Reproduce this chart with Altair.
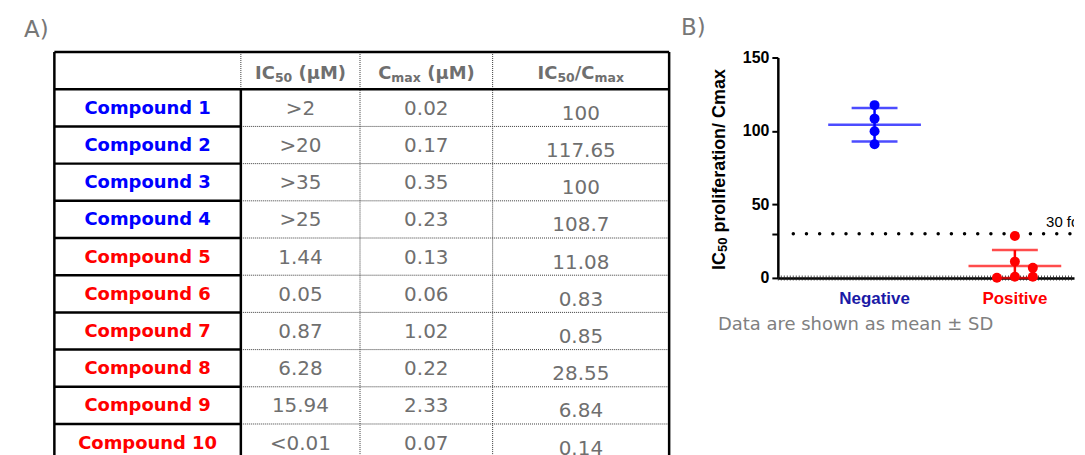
import altair as alt
import pandas as pd

# ---------------- data ----------------
compound_names = ["Compound 1", "Compound 2", "Compound 3", "Compound 4", "Compound 5",
                  "Compound 6", "Compound 7", "Compound 8", "Compound 9", "Compound 10"]
compound_class = ["Negative", "Negative", "Negative", "Negative", "Positive",
                  "Positive", "Positive", "Positive", "Positive", "Positive"]
ic50_values = [">2", ">20", ">35", ">25", "1.44", "0.05", "0.87", "6.28", "15.94", "<0.01"]
cmax_values = ["0.02", "0.17", "0.35", "0.23", "0.13", "0.06", "1.02", "0.22", "2.33", "0.07"]
ratio_values = ["100", "117.65", "100", "108.7", "11.08", "0.83", "0.85", "28.55", "6.84", "0.14"]
# header cells as (text, is_subscript) pieces
header_pieces = [
    [],
    [("IC", 0), ("50", 1), (" (µM)", 0)],
    [("C", 0), ("max", 1), (" (µM)", 0)],
    [("IC", 0), ("50", 1), ("/C", 0), ("max", 1)],
]

categories = ["Negative", "Positive"]
negative_ratios = [117.6, 108.4, 99.8, 91.0]
positive_ratios = [28.55, 11.08, 6.84, 0.85, 0.83, 0.14]
negative_swarm_slot = [0, 0, 0, 0]
positive_swarm_slot = [0, 0, 1, 1, 0, -1]
threshold_value = 30
threshold_text = "30 fold"
y_tick_values = [0, 30, 50, 100, 150]
y_title_pieces = [("IC", 0), ("50", 1), (" proliferation/ Cmax", 0)]
footnote_text = "Data are shown as mean ± SD"
panel_labels = ["A)", "B)"]

# ---------------- layout / style ----------------
PAGE_M = 8
col_edges = [e - PAGE_M for e in (54.5, 241.5, 361.0, 494.0, 671.0)]
col_centers = [(col_edges[i] + col_edges[i + 1]) / 2 for i in range(4)]
TABLE_TOP = 51.5 - PAGE_M
ROW_H = 37.3
N_ROWS = 11
TABLE_W, TABLE_H = 700, 470
GAP = 72
PLOT_W, PLOT_H = 297, 270
Y0_PX, YMAX_PX = 270, 49
PX_PER_CAT = 140.7
NEG_X_PX = 97
SLOT_PX = 18
BOTTOM_EXT = N_ROWS + 0.8

BLUE_TXT = "#0000ff"
RED = "#ff0000"
BLUE_PT = "#0000e6"
NAVY_LBL = "#1a1aa6"
GRAY = "#6f6f6f"
VERDANA = "DejaVu Sans"
ARIAL = "Liberation Sans"

# approximate advance widths (em) used to place subscript pieces next to each other
W_DEJAVU_BOLD = {"I": .372, "C": .734, "5": .696, "0": .696, " ": .348, "(": .457, ")": .457,
                 "µ": .721, "M": .995, "/": .365, "m": 1.042, "a": .675, "x": .663}
W_ARIAL_BOLD = {"I": .278, "C": .722, "5": .556, "0": .556, " ": .278, "p": .611, "r": .389,
                "o": .611, "l": .278, "i": .278, "f": .333, "e": .556, "a": .556, "t": .333,
                "n": .611, "/": .278, "m": .889, "x": .556}


def piece_layout(pieces, table, fs, fs_sub):
    """Return [(text_without_leading_space, is_sub, offset)] and the total width."""
    out, pos = [], 0.0
    for txt, sub in pieces:
        size = fs_sub if sub else fs
        stripped = txt.lstrip(" ")
        pos += (len(txt) - len(stripped)) * table[" "] * size
        out.append((stripped, sub, pos))
        pos += sum(table.get(ch, 0.6) for ch in stripped) * size
    return out, pos


# ---------------- table panel ----------------
row_scale = alt.Scale(domain=[0, N_ROWS], range=[TABLE_TOP, TABLE_TOP + N_ROWS * ROW_H],
                      nice=False, zero=False)


def YT(field):
    return alt.Y(field, type="quantitative", scale=row_scale, axis=None)


def XT(field):
    return alt.X(field, type="quantitative", scale=None, axis=None)


x0, x1, x2, x3, x4 = col_edges
thick = [(x0, x4, 0, 0), (x0, x4, 1, 1), (x0, x0, 0, BOTTOM_EXT), (x4, x4, 0, BOTTOM_EXT),
         (x1, x1, 1, BOTTOM_EXT)] + [(x0, x1, r, r) for r in range(2, N_ROWS + 1)]
dotted = [(x1, x1, 0, 1), (x2, x2, 0, BOTTOM_EXT), (x3, x3, 0, BOTTOM_EXT)] + \
         [(x1, x4, r, r) for r in range(2, N_ROWS + 1)]
thick_df = pd.DataFrame(thick, columns=["xa", "xb", "ya", "yb"])
dotted_df = pd.DataFrame(dotted, columns=["xa", "xb", "ya", "yb"])

dotted_layer = alt.Chart(dotted_df).mark_rule(
    color="#3a3a3a", strokeWidth=1, strokeDash=[1, 1], clip=True
).encode(x=XT("xa"), x2="xb", y=YT("ya"), y2="yb")
thick_layer = alt.Chart(thick_df).mark_rule(
    color="black", strokeWidth=2.5, clip=True
).encode(x=XT("xa"), x2="xb", y=YT("ya"), y2="yb")

rows_df = pd.DataFrame({
    "row": list(range(1, len(compound_names) + 1)),
    "name": compound_names,
    "cls": compound_class,
    "ic50": ic50_values,
    "cmax": cmax_values,
    "ratio": ratio_values,
})
rows_df["yc"] = rows_df["row"] + 0.5

names_layer = alt.Chart(rows_df).mark_text(
    font=VERDANA, fontWeight="bold", fontSize=18, baseline="middle", align="center", dy=1, clip=True
).encode(
    x=alt.value(col_centers[0]), y=YT("yc"), text="name:N",
    color=alt.Color("cls:N", scale=alt.Scale(domain=categories, range=[BLUE_TXT, RED]), legend=None),
)

val_long = pd.concat([
    pd.DataFrame({"xc": col_centers[1], "yc": rows_df["yc"], "txt": rows_df["ic50"]}),
    pd.DataFrame({"xc": col_centers[2], "yc": rows_df["yc"], "txt": rows_df["cmax"]}),
])
vals_layer = alt.Chart(val_long).mark_text(
    font=VERDANA, fontSize=20, color=GRAY, baseline="middle", align="center", dy=1, clip=True
).encode(x=XT("xc"), y=YT("yc"), text="txt:N")

ratio_df = pd.DataFrame({"xc": col_centers[3], "yc": rows_df["yc"], "txt": rows_df["ratio"]})
ratio_layer = alt.Chart(ratio_df).mark_text(
    font=VERDANA, fontSize=20, color=GRAY, baseline="middle", align="center", dy=6, clip=True
).encode(x=XT("xc"), y=YT("yc"), text="txt:N")

H_FS, H_FS_SUB = 18, 12.5
hdr_rows = []
for ci, pieces in enumerate(header_pieces):
    if not pieces:
        continue
    laid, total = piece_layout(pieces, W_DEJAVU_BOLD, H_FS, H_FS_SUB)
    start = col_centers[ci] - total / 2
    for txt, sub, off in laid:
        hdr_rows.append({"xc": start + off, "yc": 0.5, "txt": txt, "sub": sub})
hdr_df = pd.DataFrame(hdr_rows)
header_main = alt.Chart(hdr_df[hdr_df["sub"] == 0]).mark_text(
    font=VERDANA, fontWeight="bold", fontSize=H_FS, color=GRAY, baseline="alphabetic", align="left", dy=8
).encode(x=XT("xc"), y=YT("yc"), text="txt:N")
header_sub = alt.Chart(hdr_df[hdr_df["sub"] == 1]).mark_text(
    font=VERDANA, fontWeight="bold", fontSize=H_FS_SUB, color=GRAY, baseline="alphabetic", align="left", dy=11
).encode(x=XT("xc"), y=YT("yc"), text="txt:N")

labelA_layer = alt.Chart(pd.DataFrame({"t": [panel_labels[0]]})).mark_text(
    font=VERDANA, fontSize=23, color="#777777", align="left", baseline="middle"
).encode(x=alt.value(16), y=alt.value(21), text="t:N")

table_chart = alt.layer(
    dotted_layer, thick_layer, header_main, header_sub, names_layer, vals_layer, ratio_layer, labelA_layer
).properties(width=TABLE_W, height=TABLE_H)

# ---------------- scatter panel ----------------
pts = pd.DataFrame({
    "cat": ["Negative"] * len(negative_ratios) + ["Positive"] * len(positive_ratios),
    "value": negative_ratios + positive_ratios,
    "slot": negative_swarm_slot + positive_swarm_slot,
})
pts["idx"] = pts["cat"].map({c: i for i, c in enumerate(categories)})
pts["xpos"] = pts["idx"] + pts["slot"] * SLOT_PX / PX_PER_CAT

stats = pts.groupby("cat").agg(idx=("idx", "first"), mean=("value", "mean"), sd=("value", "std")).reset_index()
stats["upper"] = stats["mean"] + stats["sd"]
stats["lower"] = (stats["mean"] - stats["sd"]).clip(lower=0)

xs = alt.Scale(domain=[-NEG_X_PX / PX_PER_CAT, (PLOT_W - NEG_X_PX) / PX_PER_CAT], nice=False, zero=False)
ys = alt.Scale(domain=[0, 150], range=[Y0_PX, YMAX_PX], nice=False, zero=False)
x_axis = alt.Axis(labels=False, ticks=False, title=None, domain=True, domainWidth=2.5,
                  domainColor="black", grid=False)
y_axis = alt.Axis(values=y_tick_values, labelExpr="datum.value == 30 ? '' : datum.label",
                  labelFont=ARIAL, labelFontWeight="bold", labelFontSize=16, labelColor="black",
                  tickColor="black", tickWidth=2, tickSize=6, domainWidth=2.5, domainColor="black",
                  grid=False, title=None, labelPadding=3)


def XS(field):
    return alt.X(field, type="quantitative", scale=xs, axis=x_axis)


def YS(field):
    return alt.Y(field, type="quantitative", scale=ys, axis=y_axis)


cat_color = alt.Color("cat:N", scale=alt.Scale(domain=categories, range=[BLUE_PT, RED]), legend=None)

thr_df = pd.DataFrame({"v": [threshold_value], "t": [threshold_text]})
thr_rule = alt.Chart(thr_df).mark_rule(
    color="black", strokeWidth=3.5, strokeDash=[0.01, 13.2], strokeCap="round", clip=True
).encode(x=alt.value(15.5), x2=alt.value(PLOT_W), y=YS("v"))
thr_text = alt.Chart(thr_df).mark_text(
    font=ARIAL, fontSize=15, color="black", align="left", baseline="alphabetic", dy=-7, clip=True
).encode(x=alt.value(269), y=YS("v"), text="t:N")

zero_df = pd.DataFrame({"v": [0]})
hatch = alt.Chart(zero_df).mark_rule(
    color="#222222", strokeWidth=5, strokeDash=[0.8, 2.2]
).encode(x=alt.value(0), x2=alt.value(PLOT_W), y=YS("v"))

sd_rule = alt.Chart(stats).mark_rule(strokeWidth=2.5).encode(
    x=XS("idx"), y=YS("lower"), y2="upper", color=cat_color)
mean_tick = alt.Chart(stats).mark_tick(orient="horizontal", size=93, thickness=2.5).encode(
    x=XS("idx"), y=YS("mean"), color=cat_color)
up_tick = alt.Chart(stats).mark_tick(orient="horizontal", size=46, thickness=2.5).encode(
    x=XS("idx"), y=YS("upper"), color=cat_color)
lo_tick = alt.Chart(stats).mark_tick(orient="horizontal", size=46, thickness=2.5).encode(
    x=XS("idx"), y=YS("lower"), color=cat_color)
points = alt.Chart(pts).mark_circle(size=100, opacity=1).encode(
    x=XS("xpos"), y=YS("value"), color=cat_color)

lbl_df = pd.DataFrame({"cat": categories, "idx": [0, 1], "col": [NAVY_LBL, RED]})
cat_labels = alt.Chart(lbl_df).mark_text(
    font=ARIAL, fontWeight="bold", fontSize=17, baseline="middle", align="center"
).encode(x=XS("idx"), y=alt.value(291), text="cat:N", color=alt.Color("col:N", scale=None))

# rotated y-axis title, built from pieces so "50" can be a subscript
T_FS, T_FS_SUB = 18, 13
T_X, T_Y0 = -53, 262
t_laid, _ = piece_layout(y_title_pieces, W_ARIAL_BOLD, T_FS, T_FS_SUB)
ytitle_layers = []
for txt, sub, off in t_laid:
    ytitle_layers.append(
        alt.Chart(pd.DataFrame({"t": [txt]})).mark_text(
            font=ARIAL, fontWeight="bold", fontSize=T_FS_SUB if sub else T_FS, angle=270,
            baseline="alphabetic", align="left", color="black", dy=2 if sub else 0
        ).encode(x=alt.value(T_X), y=alt.value(T_Y0 - off), text="t:N")
    )

foot = alt.Chart(pd.DataFrame({"t": [footnote_text]})).mark_text(
    font=VERDANA, fontSize=18, color="#808080", align="left", baseline="middle"
).encode(x=alt.value(-60), y=alt.value(317), text="t:N")

labelB = alt.Chart(pd.DataFrame({"t": [panel_labels[1]]})).mark_text(
    font=VERDANA, fontSize=23, color="#777777", align="left", baseline="middle"
).encode(x=alt.value(-97), y=alt.value(19), text="t:N")

plot_chart = alt.layer(
    thr_rule, hatch, sd_rule, mean_tick, up_tick, lo_tick, points, thr_text,
    cat_labels, *ytitle_layers, foot, labelB
).properties(width=PLOT_W, height=PLOT_H)

chart = alt.hconcat(table_chart, plot_chart, spacing=GAP).properties(
    bounds="flush", padding=0
).configure_view(stroke=None)

chart.save("out.html", embed_options={"renderer": "svg", "actions": False})
